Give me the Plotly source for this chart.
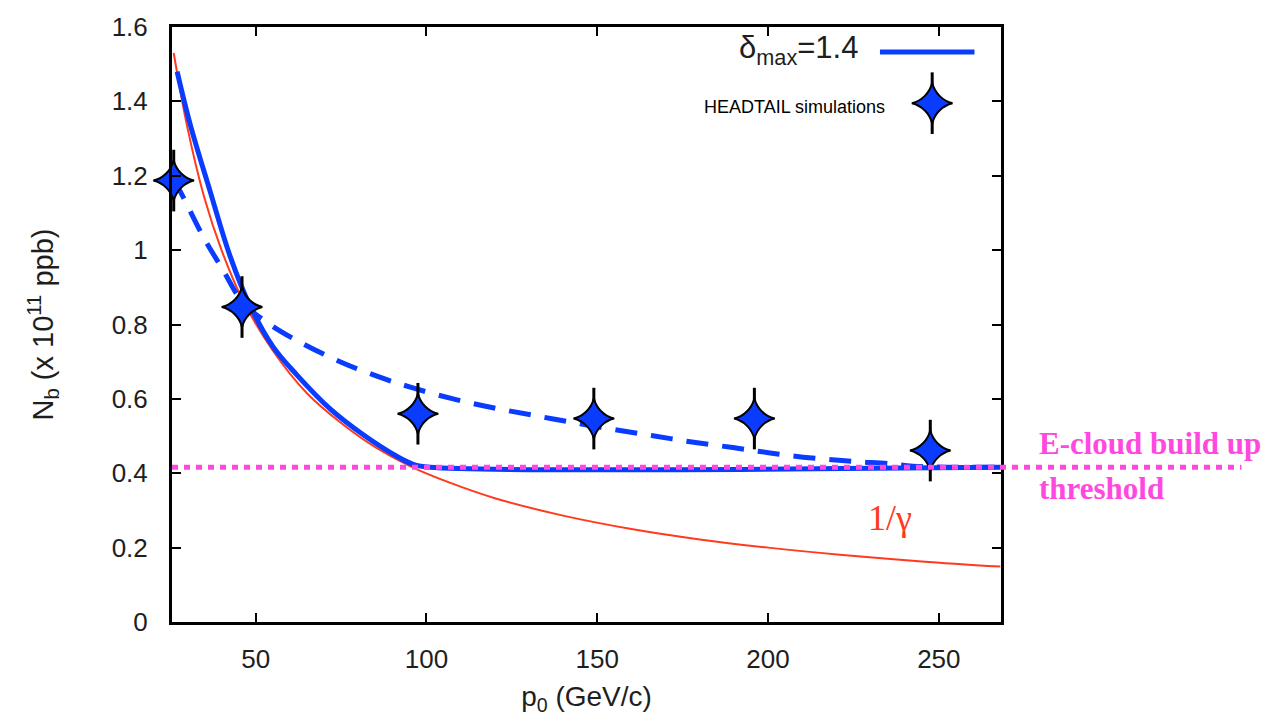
import plotly.graph_objects as go

# ---- data ----
sim_p = [26, 46, 97.5, 149, 196, 247.5]
sim_nb = [1.187, 0.847, 0.56, 0.547, 0.547, 0.461]

solid_p = [27, 30.8, 36.6, 42.5, 48.3, 55.1, 62.1, 71.8, 81.4, 91.4, 96.1, 101, 268]
solid_nb = [1.48, 1.339, 1.16, 0.984, 0.851, 0.74, 0.664, 0.573, 0.504, 0.445, 0.424, 0.416, 0.416]

dash_p = [26, 28.7, 34.6, 40.4, 46.3, 54.2, 63.9, 74.7, 85.5, 95.8, 107.8, 119.5, 131.2,
          142.6, 154.6, 166.3, 177.7, 189.7, 201.1, 212.9, 224.6, 236.3, 242.4, 268]
dash_nb = [1.19, 1.144, 1.037, 0.947, 0.859, 0.800, 0.748, 0.700, 0.661, 0.630, 0.600, 0.576, 0.556,
           0.537, 0.518, 0.501, 0.484, 0.469, 0.454, 0.441, 0.432, 0.425, 0.419, 0.416]

gamma_p = [26, 30, 35, 40, 46, 55, 65, 75, 85, 95, 107, 120, 140, 160, 180, 200, 221, 245, 268]
gamma_nb = [1.53, 1.33, 1.14, 1.0, 0.87, 0.73, 0.615, 0.535, 0.47, 0.42, 0.374, 0.333, 0.286,
            0.25, 0.222, 0.2, 0.181, 0.163, 0.149]

threshold = 0.416

x_ticks = [50, 100, 150, 200, 250]
y_ticks = [0, 0.2, 0.4, 0.6, 0.8, 1.0, 1.2, 1.4, 1.6]
y_ticktext = ["0", "0.2", "0.4", "0.6", "0.8", "1", "1.2", "1.4", "1.6"]

BLUE = "#0a3cff"
RED = "#ff3a1e"
PINK = "#ff48e0"
TXT = "#1e1e1e"
FONT = "Liberation Sans, Arial, sans-serif"
SERIF = "Liberation Serif, Times New Roman, serif"

fig = go.Figure()

fig.add_trace(go.Scatter(x=gamma_p, y=gamma_nb, mode="lines",
                         line=dict(color=RED, width=2, shape="spline", smoothing=1.0), showlegend=False))
fig.add_trace(go.Scatter(x=dash_p, y=dash_nb, mode="lines",
                         line=dict(color=BLUE, width=5, dash="22px,14px", shape="spline", smoothing=1.0),
                         showlegend=False))
fig.add_trace(go.Scatter(x=solid_p, y=solid_nb, mode="lines",
                         line=dict(color=BLUE, width=5, shape="spline", smoothing=1.0), showlegend=False))

star_needle = dict(symbol="line-ns", size=44, line=dict(color="black", width=3))
star_body = dict(symbol="star-diamond", size=29, color=BLUE, line=dict(color="black", width=2))

fig.add_trace(go.Scatter(x=sim_p, y=sim_nb, mode="markers", marker=star_needle,
                         showlegend=False, cliponaxis=False))
fig.add_trace(go.Scatter(x=sim_p, y=sim_nb, mode="markers", marker=star_body,
                         showlegend=False, cliponaxis=False))

# legend sample for the simulations (overlay axis in plot-fraction units)
fig.add_trace(go.Scatter(x=[0.917], y=[0.872], mode="markers", xaxis="x2", yaxis="y2",
                         marker=star_needle, showlegend=False, cliponaxis=False))
fig.add_trace(go.Scatter(x=[0.917], y=[0.872], mode="markers", xaxis="x2", yaxis="y2",
                         marker=star_body, showlegend=False, cliponaxis=False))

axis_common = dict(showline=True, linecolor="black", linewidth=3, mirror="allticks",
                   ticks="inside", ticklen=9, tickwidth=2, tickcolor="black",
                   showgrid=False, zeroline=False,
                   tickfont=dict(family=FONT, size=26, color=TXT))

fig.update_layout(
    width=1275, height=721,
    margin=dict(l=172, r=274, t=22, b=99),
    paper_bgcolor="white", plot_bgcolor="white",
    xaxis=dict(range=[25.5, 268.2], tickvals=x_ticks, ticklabelstandoff=12,
               title=dict(text="p<sub>0</sub> (GeV/c)", font=dict(family=FONT, size=28, color=TXT),
                          standoff=14),
               **axis_common),
    yaxis=dict(range=[0, 1.6], tickvals=y_ticks, ticktext=y_ticktext, ticklabelstandoff=16,
               title=dict(text="N<sub>b</sub> (x 10<sup>11</sup> ppb)",
                          font=dict(family=FONT, size=29, color=TXT), standoff=50),
               **axis_common),
    xaxis2=dict(range=[0, 1], overlaying="x", visible=False, fixedrange=True),
    yaxis2=dict(range=[0, 1], overlaying="y", visible=False, fixedrange=True),
    showlegend=False,
)

# threshold line (extends beyond the plot frame)
fig.add_shape(type="line", xref="paper", yref="y", x0=0, x1=1.29, y0=threshold, y1=threshold,
              line=dict(color=PINK, width=5, dash="6px,6px"), layer="above")
# legend line sample
fig.add_shape(type="line", xref="paper", yref="paper", x0=0.854, x1=0.968, y0=0.958, y1=0.958,
              line=dict(color=BLUE, width=5))

fig.add_annotation(xref="paper", yref="paper", x=0.830, y=0.962, xanchor="right", yanchor="middle",
                   text="δ<sub>max</sub>=1.4", showarrow=False,
                   font=dict(family=FONT, size=31, color=TXT))
fig.add_annotation(xref="paper", yref="paper", x=0.862, y=0.865, xanchor="right", yanchor="middle",
                   text="HEADTAIL simulations", showarrow=False,
                   font=dict(family=FONT, size=18, color="black"))
fig.add_annotation(xref="paper", yref="paper", x=0.866, y=0.175, xanchor="center", yanchor="middle",
                   text="1/γ", showarrow=False,
                   font=dict(family=SERIF, size=36, color=RED))
fig.add_annotation(xref="paper", yref="paper", x=1.044, y=0.30, xanchor="left", yanchor="middle",
                   text="<b>E-cloud build up</b>", showarrow=False,
                   font=dict(family=SERIF, size=31, color=PINK))
fig.add_annotation(xref="paper", yref="paper", x=1.044, y=0.225, xanchor="left", yanchor="middle",
                   text="<b>threshold</b>", showarrow=False,
                   font=dict(family=SERIF, size=31, color=PINK))

fig.write_html("out.html")
